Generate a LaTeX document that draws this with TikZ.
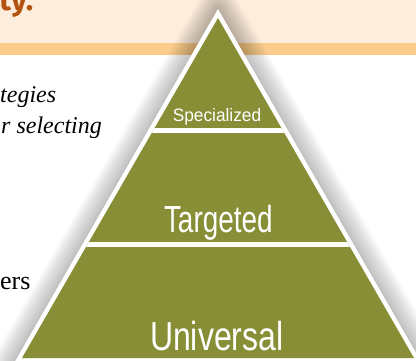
\documentclass[tikz,border=0pt]{standalone}
\usepackage{fontspec}
\setmainfont{Liberation Serif}
\setsansfont{Liberation Sans}
\newfontfamily\headfont{Fira Sans}
\usepackage{xcolor}
\definecolor{colorLayer}{RGB}{135,142,53}
\definecolor{colorBand}{RGB}{253,237,220}
\definecolor{colorStripe}{RGB}{251,204,139}
\definecolor{colorTitle}{RGB}{178,84,16}
\tikzset{layerText/.style={text=white, font=\sffamily, inner sep=0pt, anchor=base},
  bodyText/.style={inner sep=0pt, anchor=base west, font=\fontsize{23}{26}\selectfont}}

\begin{document}
\begin{tikzpicture}[x=1pt, y=1pt]
\useasboundingbox (0,0) rectangle (416,360);
% header band
\fill[colorBand] (0,317) rectangle (416,360);
\fill[colorStripe] (0,305) rectangle (416,317);
\node[bodyText, font=\fontsize{31}{33}\selectfont\headfont\bfseries, text=colorTitle] (title) at (-1,350) {ty.};
% cut text on the left
\node[bodyText, font=\fontsize{24}{26}\selectfont\itshape] (lineA) at (0,258) {tegies};
\node[bodyText, font=\fontsize{24}{26}\selectfont\itshape] (lineB) at (1,227) {r selecting};
\node[bodyText, font=\fontsize{26}{28}\selectfont] (lineC) at (0,71) {ers};
% pyramid
\coordinate (apex) at (218,342);
\coordinate (baseL) at (22,2);
\coordinate (baseR) at (414,2);
\coordinate (outerTop) at (218,351);
\coordinate (outerL) at (14.4,-2.5);
\coordinate (outerR) at (421.6,-2.5);
% soft shadow
\foreach \w in {1,...,14}
  \draw[black, opacity=0.019, line width=3*\w pt, line join=round] (outerTop) -- (outerL) -- (outerR) -- cycle;
\fill[white] (outerTop) -- (outerL) -- (outerR) -- cycle;
\fill[colorLayer] (apex) -- (baseL) -- (baseR) -- cycle;
\begin{scope}
\clip (apex) -- (baseL) -- (baseR) -- cycle;
\draw[white, line width=4.5pt] (0,229.5) -- (416,229.5);
\draw[white, line width=4.5pt] (0,115.5) -- (416,115.5);
\end{scope}
\node[layerText, font=\sffamily\fontsize{18}{20}\selectfont, xscale=0.96] (spec) at (217,239) {Specialized};
\node[layerText, font=\sffamily\fontsize{37.7}{40}\selectfont, xscale=0.74] (targ) at (218.3,127.7) {Targeted};
\node[layerText, font=\sffamily\fontsize{40.5}{42}\selectfont, xscale=0.79] (univ) at (216.7,9.3) {Universal};
\end{tikzpicture}
\end{document}
